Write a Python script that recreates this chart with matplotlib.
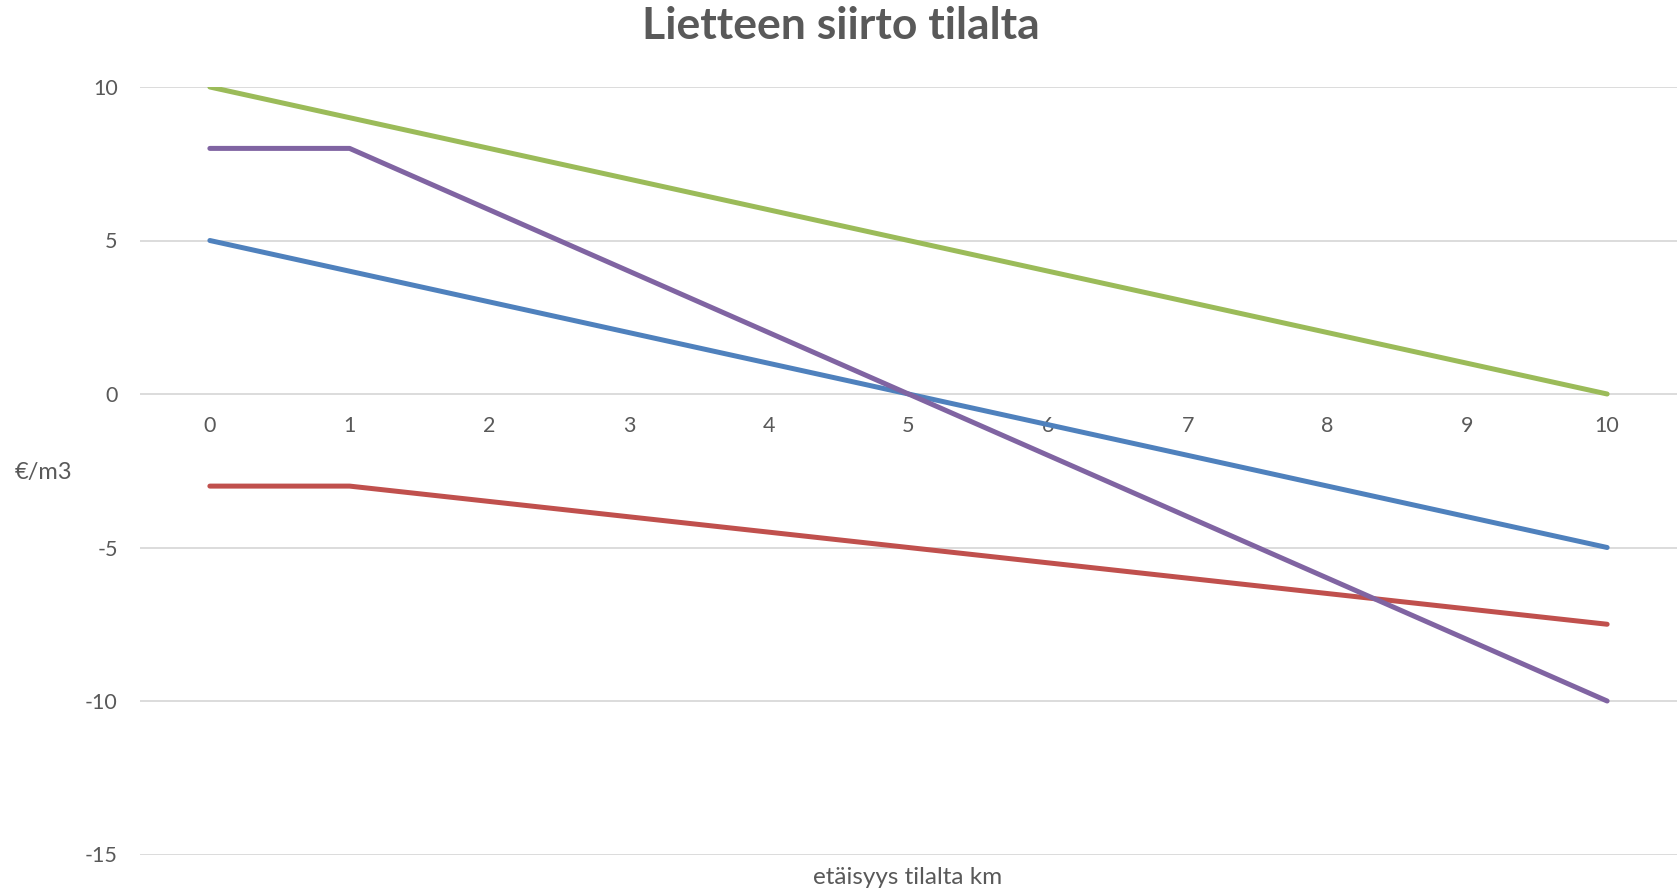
import matplotlib
matplotlib.use("Agg")
import matplotlib.pyplot as plt

categories = [0, 1, 2, 3, 4, 5, 6, 7, 8, 9, 10]
blue_vals = [5, 4, 3, 2, 1, 0, -1, -2, -3, -4, -5]
red_vals = [-3, -3, -3.5, -4, -4.5, -5, -5.5, -6, -6.5, -7, -7.5]
green_vals = [10, 9, 8, 7, 6, 5, 4, 3, 2, 1, 0]
purple_vals = [8, 8, 6, 4, 2, 0, -2, -4, -6, -8, -10]
y_ticks = [-15, -10, -5, 0, 5, 10]

title = "Lietteen siirto tilalta"
xlabel = "etäisyys tilalta km"
ylabel = "€/m3"

plt.rcParams['font.family'] = ['Lato', 'DejaVu Sans']
txt = '#595959'

fig = plt.figure(figsize=(16.81, 8.92), dpi=100)
ax = fig.add_axes([140/1681, 1-854.5/892, (1677-140)/1681, (854.5-87)/892])

for yv in y_ticks:
    ax.axhline(yv, color='#D9D9D9', lw=1.3, zorder=0)

series = [(blue_vals, '#4F81BD'), (red_vals, '#C0504D'),
          (green_vals, '#9BBB59'), (purple_vals, '#8064A2')]
for vals, c in series:
    ax.plot(categories, vals, color=c, lw=3.6, solid_capstyle='round',
            solid_joinstyle='round', zorder=3)

for s in ['top', 'right', 'left']:
    ax.spines[s].set_visible(False)
ax.spines['bottom'].set_position(('data', 0))
ax.spines['bottom'].set_visible(False)

ax.set_xlim(-0.5, 10.5)
ax.set_ylim(-15, 10)
ax.set_yticks(y_ticks)
ax.set_yticklabels([str(v) for v in y_ticks], color=txt, fontsize=15.5)
ax.set_xticks(categories)
ax.set_xticklabels([str(c) for c in categories], color=txt, fontsize=15.5)
ax.tick_params(axis='x', length=0, pad=16, labelcolor=txt, labelsize=15.5)
ax.tick_params(axis='y', length=0, pad=16, labelcolor=txt, labelsize=15.5)

fig.text(0.5, 1-26/892, title, ha='center', va='center', fontsize=32,
         fontweight='bold', color=txt)
fig.text(908/1681, 1-877/892, xlabel, ha='center', va='center', fontsize=17.5, color=txt)
fig.text(44/1681, 1-472/892, ylabel, ha='center', va='center', fontsize=17, color=txt)

fig.savefig('out.png', dpi=100)
